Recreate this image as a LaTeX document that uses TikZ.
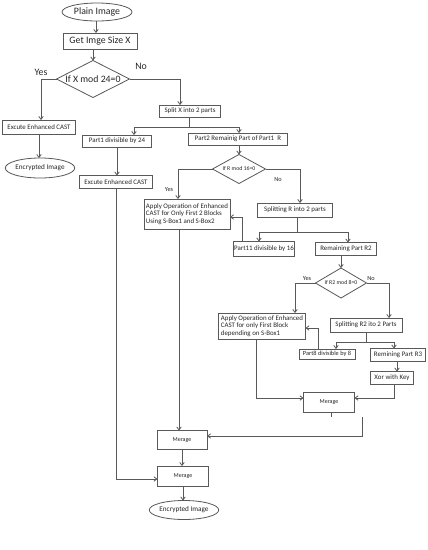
\documentclass[tikz,border=0pt]{standalone}
\usepackage{fontspec}
\setmainfont{Carlito}
\usetikzlibrary{shapes.geometric,arrows.meta}
\begin{document}
\begin{tikzpicture}[x=1pt,y=-1pt,
  every node/.style={inner sep=0pt,outer sep=0pt,text=black!85},
  box/.style={draw=black!65,line width=0.8pt,rectangle,font=\fontsize{6.9}{7.7}\selectfont},
  bigbox/.style={box,font=\fontsize{9.8}{11}\selectfont},
  oval/.style={draw=black!65,line width=0.8pt,ellipse,font=\fontsize{7.2}{8.6}\selectfont},
  dia/.style={draw=black!65,line width=0.8pt,diamond},
  lab/.style={font=\fontsize{6.3}{7}\selectfont},
  biglab/.style={font=\fontsize{9.8}{11}\selectfont},
  mer/.style={box,font=\fontsize{6}{7}\selectfont},
  ln/.style={draw=black!65,line width=0.8pt},
  arr/.style={ln,-{Straight Barb[length=3pt,width=4.5pt]}}
]
\useasboundingbox (0,0) rectangle (428,550);
\fill[white] (0,0) rectangle (428,550);

% top
\node[oval,minimum width=70pt,minimum height=18pt,font=\fontsize{9.8}{11}\selectfont] (plain) at (97,12) {Plain Image};
\node[bigbox,minimum width=74pt,minimum height=16pt] (get) at (100,41) {Get Imge Size X};
\node[dia,minimum width=73pt,minimum height=37pt,aspect=2] (d1) at (93,79) {};
\node[biglab] at (93,79) {If X mod 24=0};
\node[biglab] (y1) at (41,72) {Yes};
\node[biglab] (n1) at (141,66) {No};

\node[box,minimum width=73pt,minimum height=14pt] (exc1) at (39,127) {Excute Enhanced CAST};
\node[oval,minimum width=62pt,minimum height=20pt] (enc1) at (40,168) {Encrypted Image};

\node[box,minimum width=61pt,minimum height=12pt] (split) at (190,111) {Split X into 2 parts};
\coordinate (sj) at (189,127);
\node[box,minimum width=69pt,minimum height=12pt] (p1) at (117,141) {Part1 divisible by 24};
\node[box,minimum width=99pt,minimum height=12pt] (p2) at (238,139) {Part2 Remainig Part of Part1\ \ R};
\node[box,minimum width=73pt,minimum height=13pt] (exc2) at (116,182) {Excute Enhanced CAST};

\node[dia,minimum width=53pt,minimum height=29pt] (d2) at (239,169) {};
\node[lab,font=\fontsize{5.8}{6.5}\selectfont] at (239,169) {If R mod 16=0};
\node[lab] (y2) at (169,189) {Yes};
\node[lab] (n2) at (278,179) {No};

\node[box,minimum width=86pt,minimum height=30pt,align=left] (app1) at (187,214) {Apply Operation of Enhanced\\CAST for Only First 2 Blocks\\Using S-Box1 and S-Box2};
\node[box,minimum width=75pt,minimum height=14pt] (spl) at (295,210) {Splitting R into 2 parts};
\coordinate (sj2) at (297,232);
\node[box,minimum width=61pt,minimum height=15pt] (p11) at (264,249) {Part11 divisible by 16};
\node[box,minimum width=61pt,minimum height=13pt] (rem2) at (346,249) {Remaining Part R2};

\node[dia,minimum width=51pt,minimum height=30pt] (d3) at (341,283) {};
\node[lab,font=\fontsize{5.8}{6.5}\selectfont] at (341,283) {If R2 mod 8=0};
\node[lab] (y3) at (307,278) {Yes};
\node[lab] (n3) at (371,278) {No};

\node[box,minimum width=87pt,minimum height=26pt,align=left] (app2) at (262,326) {Apply Operation of Enhanced\\CAST for only First Block\\depending on S-Box1\hspace*{16pt}};
\node[box,minimum width=72pt,minimum height=14pt] (spl2) at (366,325) {Splitting R2 ito 2 Parts};
\coordinate (sj3) at (366,342);
\node[box,minimum width=56pt,minimum height=10pt,font=\fontsize{6.3}{7}\selectfont] (p8) at (327,354) {Part8 divisible by 8};
\node[box,minimum width=55pt,minimum height=13pt] (r3) at (398,355) {Remining Part R3};
\node[box,minimum width=43pt,minimum height=13pt] (xor) at (392,378) {Xor with Key};

\node[mer,minimum width=51pt,minimum height=20pt] (m1) at (329,402) {Merage};
\coordinate (t1) at (331,417);
\coordinate (fa) at (362,417);
\node[mer,minimum width=50pt,minimum height=19pt] (m2) at (182,440) {Merage};
\node[mer,minimum width=51pt,minimum height=20pt] (m3) at (183,476) {Merage};
\node[oval,minimum width=62pt,minimum height=19pt] (enc2) at (184,510) {Encrypted Image};

% connectors
\draw[arr] (plain.south -| 96,0) -- (96,0 |- get.north);
\draw[arr] (get.south -| d1.north) -- (d1.north);
\draw[arr] (d1.west) -| ([xshift=2pt]exc1.north);
\draw[arr] (exc1.south) -- (exc1.south |- enc1.north);
\draw[arr] (d1.east) -| ([xshift=-10pt]split.north);
\draw[ln] (split.south -| sj) -- (sj);
\draw[arr] (sj) -| ([xshift=17pt]p1.north);
\draw[arr] (sj) -| ([xshift=1pt]p2.north);
\draw[arr] (p1.south) -- (p1.south |- exc2.north);
\draw[arr] (p2.south -| d2.north) -- (d2.north);
\draw[arr] (d2.west) -| ([xshift=-9pt]app1.north);
\draw[arr] (d2.east) -| ([xshift=5pt]spl.north);
\draw[ln] (spl.south -| sj2) -- (sj2);
\draw[arr] (sj2) -| ([xshift=-5pt]p11.north);
\draw[arr] (sj2) -| ([xshift=2pt]rem2.north);
\draw[arr] ([xshift=-22pt]p11.north) |- ([yshift=-3pt]app1.east);
\draw[arr] (rem2.south -| d3.north) -- (d3.north);
\draw[arr] (d3.west) -| ([xshift=33pt]app2.north);
\draw[arr] (d3.east) -| ([xshift=23pt]spl2.north);
\draw[ln] (spl2.south) -- (sj3);
\draw[arr] (sj3) -| ([xshift=9pt]p8.north);
\draw[arr] (sj3) -| ([xshift=-4pt]r3.north);
\draw[arr] ([xshift=-9pt]p8.north) |- ([yshift=-2pt]app2.east);
\draw[arr] ([xshift=-1pt]r3.south) -- ([xshift=5pt]xor.north);
\draw[arr] ([xshift=2pt]xor.south) |- ([yshift=4pt]m1.east);
\draw[arr] ([xshift=-6pt]app2.south) |- ([yshift=4pt]m1.west);
\draw[ln] (m1.south -| t1) -- (t1);
\draw[arr] (fa) |- ([yshift=4pt]m2.east);
\draw[arr] ([xshift=-8pt]app1.south) -- ([xshift=-8pt]app1.south |- m2.north);
\draw[arr] (m2.south) -- (m2.south |- m3.north);
\draw[arr] (exc2.south) |- ([yshift=-3pt]m3.west);
\draw[arr] (m3.south) -- (m3.south |- enc2.north);
\end{tikzpicture}
\end{document}
